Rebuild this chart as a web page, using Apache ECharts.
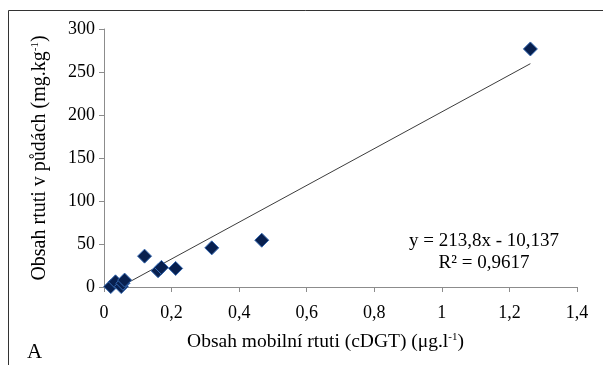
<!DOCTYPE html>
<html>
<head>
<meta charset="utf-8">
<script src="https://cdn.jsdelivr.net/npm/echarts@6/dist/echarts.min.js"></script>
<style>
html,body{margin:0;padding:0;background:#fff;}
#c{width:603px;height:365px;}
</style>
</head>
<body>
<div id="c"></div>
<script>
// Data
const xValues = [0.020, 0.034, 0.051, 0.056, 0.061, 0.120, 0.160, 0.170, 0.212, 0.319, 0.467, 1.262];
const yValues = [0.5, 6, 0.5, 4.3, 8, 35.9, 18.9, 22.8, 21.6, 45.5, 54.4, 276.8];
const trendSlope = 213.8;
const trendIntercept = -10.137;
const equationText = ['y = 213,8x - 10,137', 'R² = 0,9617'];
const xTitle = 'Obsah mobilní rtuti (cDGT) (μg.l{sup|-1})';
const yTitle = 'Obsah rtuti v půdách (mg.kg{sup|-1})';
const panelLabel = 'A';

const points = xValues.map((x, i) => [x, yValues[i]]);
const xMin = Math.min(...xValues), xMax = Math.max(...xValues);
const xStart = Math.max(xMin, -trendIntercept / trendSlope);
const trend = [[xStart, trendSlope * xStart + trendIntercept], [xMax, trendSlope * xMax + trendIntercept]];

const font = '"Liberation Serif", "Times New Roman", serif';
const fmt = v => String(Math.round(v * 10) / 10).replace('.', ',');
const supStyle = {fontSize: 11, verticalAlign: 'top', color: '#000', fontFamily: font, padding: [0,0,9,0]};

const chart = echarts.init(document.getElementById('c'));
chart.setOption({
  animation: false,
  backgroundColor: '#fff',
  grid: {left: 104, right: 26, top: 29, bottom: 78, containLabel: false},
  xAxis: {
    type: 'value', min: 0, max: 1.4, interval: 0.2,
    axisLine: {show: true, lineStyle: {color: '#8c8c8c', width: 1}},
    axisTick: {show: true, length: 5, lineStyle: {color: '#8c8c8c'}},
    splitLine: {show: false},
    axisLabel: {formatter: fmt, color: '#000', fontFamily: font, fontSize: 18, margin: 17},
    name: xTitle, nameLocation: 'middle', nameGap: 45,
    nameTextStyle: {color: '#000', fontFamily: font, fontSize: 19.5, padding: [0, 30, 0, 0], rich: {sup: supStyle}}
  },
  yAxis: {
    type: 'value', min: 0, max: 300, interval: 50,
    axisLine: {show: true, lineStyle: {color: '#8c8c8c', width: 1}},
    axisTick: {show: true, length: 5, lineStyle: {color: '#8c8c8c'}},
    splitLine: {show: false},
    axisLabel: {color: '#000', fontFamily: font, fontSize: 18, margin: 9},
    name: yTitle, nameLocation: 'middle', nameGap: 54, nameRotate: 90,
    nameTextStyle: {color: '#000', fontFamily: font, fontSize: 20, rich: {sup: supStyle}}
  },
  series: [
    {
      type: 'line', data: trend, symbol: 'none', silent: true,
      lineStyle: {color: '#3c3c3c', width: 1}, z: 2
    },
    {
      type: 'scatter', data: points, symbol: 'diamond', symbolSize: 14,
      itemStyle: {color: '#08204f', borderColor: '#3467b0', borderWidth: 1, opacity: 1}, z: 3
    }
  ],
  graphic: [
    {type: 'line', shape: {x1: 8.5, y1: 10.5, x2: 603, y2: 10.5}, style: {stroke: '#333', lineWidth: 1}},
    {type: 'line', shape: {x1: 8.5, y1: 10.5, x2: 8.5, y2: 365}, style: {stroke: '#333', lineWidth: 1}},
    {type: 'text', x: 484, y: 241, style: {text: equationText[0], font: '19px ' + font, fill: '#000', align: 'center', verticalAlign: 'middle'}},
    {type: 'text', x: 484, y: 263, style: {text: equationText[1], font: '19px ' + font, fill: '#000', align: 'center', verticalAlign: 'middle'}},
    {type: 'text', x: 27, y: 352, style: {text: panelLabel, font: '21px ' + font, fill: '#000', align: 'left', verticalAlign: 'middle'}}
  ]
});
</script>
</body>
</html>
